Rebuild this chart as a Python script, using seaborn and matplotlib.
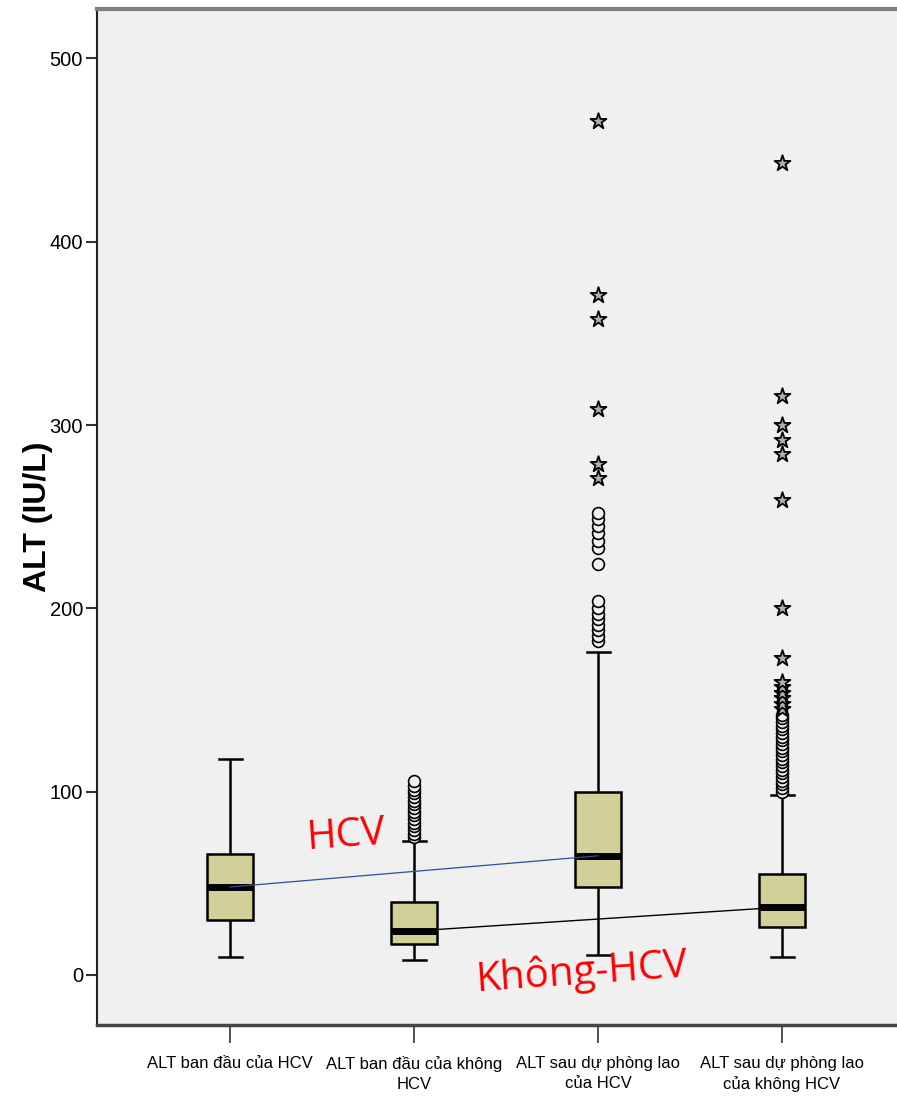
import matplotlib
matplotlib.use("Agg")
import matplotlib.pyplot as plt
import seaborn as sns
import pandas as pd

# ---- data ----
categories = ["ALT ban đầu của HCV", "ALT ban đầu của không\nHCV",
              "ALT sau dự phòng lao\ncủa HCV", "ALT sau dự phòng lao\ncủa không HCV"]
whisker_low = [10, 8, 11, 10]
q1 = [30, 17, 48, 26]
median = [48, 24, 65, 37]
q3 = [66, 40, 100, 55]
whisker_high = [118, 73, 176, 98]

# outliers (circles) and extreme values (stars)
circles_g2 = [75, 77, 79, 81, 83, 85, 87, 89, 91, 93, 95, 97, 99, 101, 103, 106]
circles_g3 = [182, 185, 188, 191, 194, 197, 200, 204, 224, 233, 237, 241, 245, 249, 252]
circles_g4 = [100, 102, 104, 106, 108, 110, 112, 114, 116, 118, 120, 122, 124, 126,
              128, 130, 132, 134, 136, 138, 140, 142]
stars_g3 = [271, 279, 309, 358, 371, 466]
stars_g4 = [145, 148, 151, 154, 157, 160, 173, 200, 259, 284, 292, 300, 316, 443]

y_label = "ALT (IU/L)"
y_ticks = [0, 100, 200, 300, 400, 500]

# ---- build tables ----
box_rows = []
for c, a, b, m, d, e in zip(categories, whisker_low, q1, median, q3, whisker_high):
    for v in (a, b, m, d, e):
        box_rows.append({"group": c, "ALT": v})
df_box = pd.DataFrame(box_rows)

circ_rows = ([{"group": categories[1], "ALT": v} for v in circles_g2] +
             [{"group": categories[2], "ALT": v} for v in circles_g3] +
             [{"group": categories[3], "ALT": v} for v in circles_g4])
df_circ = pd.DataFrame(circ_rows)
star_rows = ([{"group": categories[2], "ALT": v} for v in stars_g3] +
             [{"group": categories[3], "ALT": v} for v in stars_g4])
df_star = pd.DataFrame(star_rows)

# ---- figure ----
W, H = 897, 1108
fig = plt.figure(figsize=(W / 100, H / 100), dpi=100)
fig.patch.set_facecolor("white")
ax = fig.add_axes([97 / W, 1 - 1025 / H, 1 - 97 / W, (1025 - 9) / H])
bg = "#f0f0f0"
ax.set_facecolor(bg)

sns.boxplot(data=df_box, x="group", y="ALT", order=categories, whis=(0, 100),
            width=0.25, color="#d3cf98", saturation=1, linecolor="black",
            linewidth=1.8, fliersize=0,
            medianprops=dict(linewidth=5, color="black"),
            ax=ax, zorder=2)

sns.stripplot(data=df_circ, x="group", y="ALT", order=categories, jitter=False,
              marker="o", size=8.5, color=bg, edgecolor="black", linewidth=1.2,
              ax=ax, zorder=3)
sns.stripplot(data=df_star, x="group", y="ALT", order=categories, jitter=False,
              marker="*", size=12, color="#b0b0b0", edgecolor="black", linewidth=1.3,
              ax=ax, zorder=3)

# median connector lines
ax.plot([0, 2], [median[0], median[2]], color="#2e4f9a", lw=0.9, zorder=4)
ax.plot([1, 3], [median[1], median[3]], color="black", lw=1.0, zorder=4)

ax.text(0.63, 76, "HCV", color="red", fontsize=29, rotation=4,
        ha="center", va="center", family="Open Sans", zorder=5)
ax.text(1.91, 1, "Không-HCV", color="red", fontsize=29, rotation=4,
        ha="center", va="center", family="Open Sans", zorder=5)

# axes styling
ax.set_xlim(-0.723, 3.625)
ax.set_ylim(-27.3, 527)
ax.set_yticks(y_ticks)
ax.set_yticklabels([str(t) for t in y_ticks],
                   family=["Liberation Sans Narrow", "Liberation Sans"], fontsize=14.5)
ax.set_xticks(range(len(categories)))
ax.set_xticklabels(categories, family=["Liberation Sans Narrow", "Liberation Sans"],
                   fontsize=12, linespacing=1.45)
ax.tick_params(axis="y", direction="out", length=8, width=1.5, color="#333333", pad=2)
ax.tick_params(axis="x", direction="out", length=13, width=1.2, color="#333333", pad=9)
ax.set_xlabel("")
ax.set_ylabel(y_label, fontsize=23, fontweight="bold",
              family=["Liberation Sans", "DejaVu Sans"])
ax.yaxis.set_label_coords(-0.055, 0.5)

ax.spines["right"].set_visible(False)
ax.spines["top"].set_color("#808080")
ax.spines["top"].set_linewidth(3)
ax.spines["left"].set_color("#222222")
ax.spines["left"].set_linewidth(1.5)
ax.spines["bottom"].set_color("#444444")
ax.spines["bottom"].set_linewidth(2.5)
ax.grid(False)

fig.savefig("out.png", dpi=100, facecolor="white")
